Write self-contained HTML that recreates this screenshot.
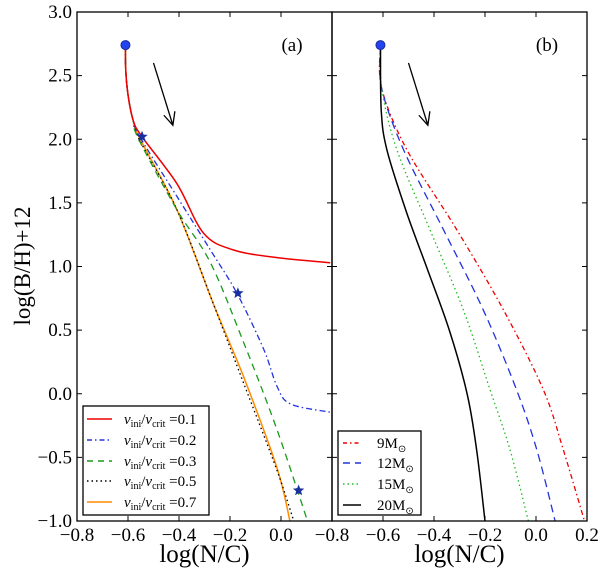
<!DOCTYPE html>
<html><head><meta charset="utf-8"><style>
body{margin:0;background:#fff;}
svg text{font-family:"Liberation Serif",serif;fill:#000;}
</style></head><body>
<svg id="c" width="600" height="568" xmlns="http://www.w3.org/2000/svg"></svg>
<script>
const xTicks=[-0.8,-0.6,-0.4,-0.2,0.0,0.2];
const xTickLabels=["\u22120.8","\u22120.6","\u22120.4","\u22120.2","0.0","0.2"];
const yTicks=[-1.0,-0.5,0.0,0.5,1.0,1.5,2.0,2.5,3.0];
const yTickLabels=["\u22121.0","\u22120.5","0.0","0.5","1.0","1.5","2.0","2.5","3.0"];
const aX=[-0.61,-0.609,-0.6,-0.58];
const aY=[2.74,2.55,2.35,2.15];
const v01X=[-0.545,-0.408,-0.303,-0.186,-0.016,0.193];
const v01Y=[2.02,1.65,1.26,1.13,1.07,1.03];
const v02X=[-0.548,-0.408,-0.277,-0.173,-0.068,-0.016,0.037,0.193];
const v02Y=[2.0,1.55,1.13,0.79,0.35,0.06,-0.08,-0.145];
const v03X=[-0.558,-0.408,-0.277,-0.146,-0.016,0.104];
const v03Y=[2.0,1.445,1.03,0.40,-0.28,-1.0];
const v05X=[-0.556,-0.408,-0.264,-0.146,-0.016,0.05];
const v05Y=[2.0,1.445,0.70,0.08,-0.60,-1.0];
const v07X=[-0.552,-0.408,-0.264,-0.146,-0.016,0.035];
const v07Y=[2.0,1.445,0.70,0.13,-0.58,-1.0];
const starX=[-0.545,-0.169,0.069];
const starY=[2.02,0.79,-0.76];
const mY=[2.74,2.4,1.92,1.29,0.66,0.03,-0.44,-1.0];
const m20Xv=[-0.61,-0.607,-0.585,-0.51,-0.43,-0.34,-0.27,-0.233,-0.2];
const m20Yv=[2.74,2.23,1.92,1.44,1.0,0.5,0.0,-0.44,-1.0];
const m15X=[-0.61,-0.605,-0.546,-0.416,-0.285,-0.18,-0.102,-0.03];
const m12X=[-0.61,-0.605,-0.52,-0.363,-0.207,-0.076,0.003,0.075];
const m9X=[-0.61,-0.605,-0.507,-0.311,-0.128,0.029,0.107,0.19];

const svg=document.getElementById('c');
const NS='http://www.w3.org/2000/svg';
const L={x0:77,x1:332},R={x0:332,x1:587},T=12,B=521;
function sx(p,v){return p.x0+(v+0.8)/1.0*(p.x1-p.x0);}
function sy(v){return B-(v+1)/4*(B-T);}
function el(t,a,p){const e=document.createElementNS(NS,t);for(const k in a)e.setAttribute(k,a[k]);(p||svg).appendChild(e);return e;}
function smooth(pts){
  let d='M'+pts[0][0].toFixed(1)+','+pts[0][1].toFixed(1);
  for(let i=0;i<pts.length-1;i++){
    const p0=pts[Math.max(0,i-1)],p1=pts[i],p2=pts[i+1],p3=pts[Math.min(pts.length-1,i+2)];
    const c1=[p1[0]+(p2[0]-p0[0])/6,p1[1]+(p2[1]-p0[1])/6],c2=[p2[0]-(p3[0]-p1[0])/6,p2[1]-(p3[1]-p1[1])/6];
    d+='C'+c1.map(v=>v.toFixed(1)).join(',')+' '+c2.map(v=>v.toFixed(1)).join(',')+' '+p2[0].toFixed(1)+','+p2[1].toFixed(1);
  }
  return d;
}
function line(p,xs,ys,color,dash,name,w){
  const pts=xs.map((x,i)=>[sx(p,x),sy(ys[i])]);
  const e=el('path',{d:smooth(pts),fill:'none',stroke:color,'stroke-width':w||1.3,'stroke-dasharray':dash||'none'});
  
  
}
function panel(p,nm,showY,label){
  const g=el('g',{});
  
  
  xTicks.forEach((t,i)=>{const x=sx(p,t);
    el('line',{x1:x,x2:x,y1:B,y2:B-5,stroke:'#000'},g);el('line',{x1:x,x2:x,y1:T,y2:T+5,stroke:'#000'},g);
    if(!(p===L&&i===5)){const tx=el('text',{x:x,y:541,'font-size':19,'text-anchor':'middle'},g);tx.textContent=xTickLabels[i];
      
      }
  });
  yTicks.forEach((t,i)=>{const y=sy(t);
    el('line',{x1:p.x0,x2:p.x0+5,y1:y,y2:y,stroke:'#000'},g);el('line',{x1:p.x1,x2:p.x1-5,y1:y,y2:y,stroke:'#000'},g);
    if(showY){const tx=el('text',{x:72,y:y+6,'font-size':19,'text-anchor':'end'},g);tx.textContent=yTickLabels[i];
      
      }
  });
  const xl=el('text',{x:(p.x0+p.x1)/2,y:562,'font-size':25,'text-anchor':'middle'},g);xl.textContent='log(N/C)';
  
  
  const pl=el('text',{x:p.x1-40,y:51,'font-size':19,'text-anchor':'middle'},g);pl.textContent=label;
  
  
}
panel(L,'panel-a',true,'(a)');panel(R,'panel-b',false,'(b)');
const yl=el('text',{x:0,y:0,'font-size':23,'text-anchor':'middle',transform:'translate(30,266) rotate(-90)'});
yl.textContent='log(B/H)+12';



line(L,aX.concat(v07X),aY.concat(v07Y),'#ff8c00','','series-v07',1.5);
line(L,aX.concat(v05X),aY.concat(v05Y),'#000','1.5 3','series-v05');
line(L,aX.concat(v03X),aY.concat(v03Y),'#1a9a1a','7 5','series-v03');
line(L,aX.concat(v02X),aY.concat(v02Y),'#2233dd','6 3 1.5 3','series-v02');
line(L,aX.concat(v01X),aY.concat(v01Y),'#ee0000','','series-v01',1.5);
line(R,m9X,mY,'#ee0000','5 3 1.5 3','series-9msun');
line(R,m12X,mY,'#2233dd','8 5','series-12msun');
line(R,m15X,mY,'#22bb22','1.5 3','series-15msun');
line(R,m20Xv,m20Yv,'#000','','series-20msun',1.5);

starX.forEach((x,i)=>{const cx=sx(L,x),cy=sy(starY[i]);let pts='';
  for(let k=0;k<10;k++){const r=k%2?2.6:6,a=-Math.PI/2+k*Math.PI/5;pts+=(cx+r*Math.cos(a)).toFixed(1)+','+(cy+r*Math.sin(a)).toFixed(1)+' ';}
  const s=el('polygon',{points:pts,fill:'#1a2fa0'});
  
  
});
[L,R].forEach(p=>{const c=el('circle',{cx:sx(p,aX[0]),cy:sy(aY[0]),r:4.5,fill:'#2244ee',stroke:'#1a2a9a'});
  
  });
[L,R].forEach(p=>{const x1=sx(p,-0.5),y1=sy(2.6),x2=sx(p,-0.424),y2=sy(2.11);
  const g=el('g',{stroke:'#000','stroke-width':1.3,fill:'none'});
  
  
  el('line',{x1:x1,y1:y1,x2:x2,y2:y2},g);
  el('polyline',{points:(x2-9)+','+(y2-10)+' '+x2+','+y2+' '+(x2+2)+','+(y2-14)},g);
});
[L,R].forEach(p=>{el('rect',{x:p.x0,y:T,width:p.x1-p.x0,height:B-T,fill:'none',stroke:'#000','stroke-width':1.3});});

function legend(x,y,w,h,rows,name,sampleX0,sampleX1,textX,fs){
  const g=el('g',{});
  
  
  el('rect',{x:x,y:y,width:w,height:h,fill:'#fff',stroke:'#000','stroke-width':1.3},g);
  rows.forEach(r=>{
    const e=el('g',{},g);
    
    
    el('line',{x1:sampleX0,x2:sampleX1,y1:r.y,y2:r.y,stroke:r.c,'stroke-width':1.4,'stroke-dasharray':r.d},e);
    const t=el('text',{x:textX,y:r.y+5,'font-size':fs},e);t.innerHTML=r.t;
  });
}
const vt=v=>'<tspan font-style="italic">v</tspan><tspan font-size="10" dy="3">ini</tspan><tspan dy="-3">/</tspan><tspan font-style="italic">v</tspan><tspan font-size="10" dy="3">crit</tspan><tspan dy="-3"> =</tspan>'+v;
legend(83,406,126,109,[
 {y:419,c:'#ee0000',d:'none',t:vt('0.1')},
 {y:440,c:'#2233dd',d:'5 3 1.5 3',t:vt('0.2')},
 {y:461,c:'#1a9a1a',d:'6 5',t:vt('0.3')},
 {y:481,c:'#000',d:'1.5 3',t:vt('0.5')},
 {y:502,c:'#ff8c00',d:'none',t:vt('0.7')}],'legend-left',87,112,124,15);
const mt=m=>m+'M<tspan font-size="10" dy="4">\u2299</tspan>';
legend(338,431,83,84,[
 {y:443,c:'#ee0000',d:'4 3 1.5 3',t:mt('9')},
 {y:463,c:'#2233dd',d:'7 5',t:mt('12')},
 {y:484,c:'#22bb22',d:'1.5 3',t:mt('15')},
 {y:505,c:'#000',d:'none',t:mt('20')}],'legend-right',343,361,377,15);
</script>
</body></html>
